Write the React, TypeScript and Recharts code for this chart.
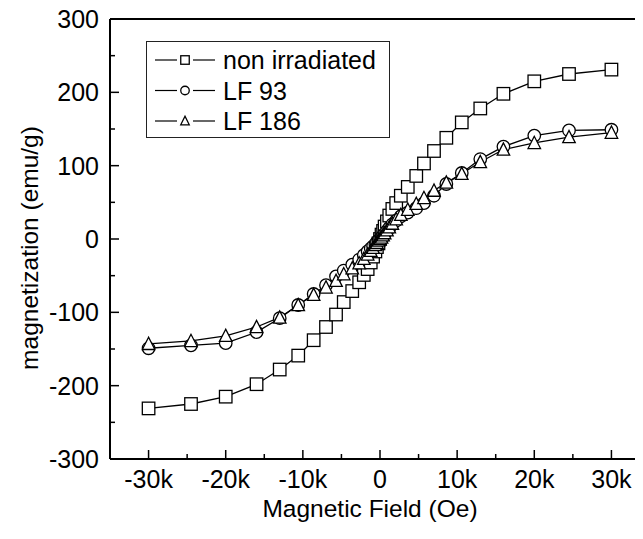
import React from 'react';
import { LineChart, Line, XAxis, YAxis, ReferenceLine } from 'recharts';

// applied field (Oe), same sweep for all three samples
const FIELD = [
  -30000, -24500, -20000, -16000, -13000, -10600, -8600, -7000, -5700, -4700,
  -3600, -2700, -2100, -1600, -1200, -900, -600, -400, -200, 0,
  200, 400, 600, 900, 1200, 1600, 2100, 2700, 3600, 4700,
  5700, 7000, 8600, 10600, 13000, 16000, 20000, 24500, 30000,
];

// magnetization (emu/g)
const NON_IRRADIATED = [
  -231, -225, -215, -198, -178, -159, -138, -120, -103, -86,
  -71, -59, -49, -41, -32, -24, -17, -11, -6, 0,
  6, 11, 17, 24, 32, 41, 49, 59, 71, 86,
  103, 120, 138, 159, 178, 198, 215, 225, 231,
];
const LF_93 = [
  -149, -145, -142, -127, -108, -90, -75, -63, -51, -43,
  -35, -28, -22, -17, -13, -10, -7, -4, -2, 0,
  2, 5, 7, 11, 15, 20, 25, 31, 36, 42,
  49, 59, 75, 90, 109, 126, 141, 148, 149,
];
const LF_186 = [
  -143, -139, -132, -120, -107, -90, -76, -66, -57, -48,
  -40, -33, -27, -21, -16, -12, -8, -5, -2, 0,
  2, 5, 8, 12, 16, 21, 27, 33, 40, 48,
  56, 66, 77, 89, 105, 122, 131, 139, 145,
];

const SERIES_NAMES = ['non irradiated', 'LF 93', 'LF 186'];
const SERIES_KEYS = ['nonIrr', 'lf93', 'lf186'];
const SERIES_SHAPES = ['square', 'circle', 'triangle'];

const X_TICKS = [-30000, -25000, -20000, -15000, -10000, -5000, 0, 5000, 10000, 15000, 20000, 25000, 30000];
const Y_TICKS = [-300, -250, -200, -150, -100, -50, 0, 50, 100, 150, 200, 250, 300];

const FONT = '"Liberation Sans", Arial, sans-serif';
const FS = 25;
const TITLE_FS = 24.5;

const rows = FIELD.map((f, i) => ({
  field: f,
  nonIrr: NON_IRRADIATED[i],
  lf93: LF_93[i],
  lf186: LF_186[i],
}));

const Marker: React.FC<{ shape: string; cx: number; cy: number; s: number }> = ({ shape, cx, cy, s }) => {
  const common = { fill: '#fff', stroke: '#000', strokeWidth: 1.3 };
  if (shape === 'square') {
    return <rect x={cx - s / 2} y={cy - s / 2} width={s} height={s} {...common} />;
  }
  if (shape === 'circle') {
    return <circle cx={cx} cy={cy} r={s / 2} {...common} />;
  }
  const h = s * 0.9;
  return (
    <polygon
      points={`${cx},${cy - h / 2 - 1} ${cx - s / 2},${cy + h / 2} ${cx + s / 2},${cy + h / 2}`}
      {...common}
    />
  );
};

const makeDot = (shape: string) => (props: any) => {
  const { cx, cy, index } = props;
  if (cx == null || cy == null) return <g key={`${shape}-${index}`} />;
  return (
    <g key={`${shape}-${index}`}>
      <Marker shape={shape} cx={cx} cy={cy} s={12.5} />
    </g>
  );
};

const fmtField = (v: number) => (v === 0 ? '0' : `${v / 1000}k`);

// ticks point inward, Origin-style; minor ticks have no label
const XTick = (props: any) => {
  const { x, y, payload } = props;
  const v = payload.value as number;
  const major = v % 10000 === 0;
  return (
    <g>
      <line x1={x} x2={x} y1={y} y2={y - (major ? 9 : 5)} stroke="#000" strokeWidth={1.5} />
      {major && (
        <text x={x} y={y + 29} textAnchor="middle" fontSize={FS} fontFamily={FONT} fill="#000">
          {fmtField(v)}
        </text>
      )}
    </g>
  );
};

const YTick = (props: any) => {
  const { x, y, payload } = props;
  const v = payload.value as number;
  const major = v % 100 === 0;
  return (
    <g>
      <line x1={x} x2={x + (major ? 9 : 5)} y1={y} y2={y} stroke="#000" strokeWidth={1.5} />
      {major && (
        <text x={x - 11} y={y + 9} textAnchor="end" fontSize={FS} fontFamily={FONT} fill="#000">
          {v}
        </text>
      )}
    </g>
  );
};

const Legend: React.FC = () => (
  <svg width={245} height={98} style={{ position: 'absolute', left: 146, top: 41 }}>
    <rect x={0.5} y={0.5} width={243} height={96} fill="#fff" stroke="#222" strokeWidth={1} />
    {SERIES_NAMES.map((name, i) => {
      const cy = 19 + i * 30.5;
      return (
        <g key={name}>
          <line x1={9} x2={31} y1={cy} y2={cy} stroke="#000" strokeWidth={1.2} />
          <line x1={47} x2={69} y1={cy} y2={cy} stroke="#000" strokeWidth={1.2} />
          <Marker shape={SERIES_SHAPES[i]} cx={39} cy={cy} s={8.5} />
          <text x={77} y={cy + 9} fontSize={FS} fontFamily={FONT} fill="#000">
            {name}
          </text>
        </g>
      );
    })}
  </svg>
);

export default function App() {
  return (
    <div
      style={{
        position: 'relative',
        margin: '-8px 0 0 -8px',
        width: 643,
        height: 539,
        overflow: 'hidden',
        fontFamily: FONT,
      }}
    >
      <LineChart width={650} height={539} data={rows} margin={{ top: 19, right: 0, bottom: 0, left: 0 }}>
        <XAxis
          dataKey="field"
          type="number"
          domain={[-35000, 35000]}
          ticks={X_TICKS}
          interval={0}
          tickSize={0}
          tickMargin={0}
          tickLine={false}
          tick={<XTick />}
          height={80}
          axisLine={{ stroke: '#000', strokeWidth: 2 }}
          allowDataOverflow
          label={{
            content: (p: any) => (
              <text
                x={p.viewBox.x + p.viewBox.width / 2 - 10}
                y={p.viewBox.y + 58}
                textAnchor="middle"
                fontSize={TITLE_FS}
                fontFamily={FONT}
                fill="#000"
              >
                Magnetic Field (Oe)
              </text>
            ),
          }}
        />
        <YAxis
          type="number"
          domain={[-300, 300]}
          ticks={Y_TICKS}
          interval={0}
          tickSize={0}
          tickMargin={0}
          tickLine={false}
          tick={<YTick />}
          width={110}
          axisLine={{ stroke: '#000', strokeWidth: 2 }}
          allowDataOverflow
          label={{
            content: (p: any) => {
              const x = p.viewBox.x + 38;
              const y = p.viewBox.y + p.viewBox.height / 2 + 9;
              return (
                <text
                  x={x}
                  y={y}
                  transform={`rotate(-90, ${x}, ${y})`}
                  textAnchor="middle"
                  fontSize={TITLE_FS}
                  fontFamily={FONT}
                  fill="#000"
                >
                  magnetization (emu/g)
                </text>
              );
            },
          }}
        />
        <ReferenceLine y={300} stroke="#000" strokeWidth={2} />
        {SERIES_KEYS.map((key, i) => (
          <Line
            key={key}
            dataKey={key}
            name={SERIES_NAMES[i]}
            type="linear"
            stroke="#000"
            strokeWidth={1.3}
            dot={makeDot(SERIES_SHAPES[i])}
            activeDot={false}
            isAnimationActive={false}
          />
        ))}
      </LineChart>
      <Legend />
    </div>
  );
}
